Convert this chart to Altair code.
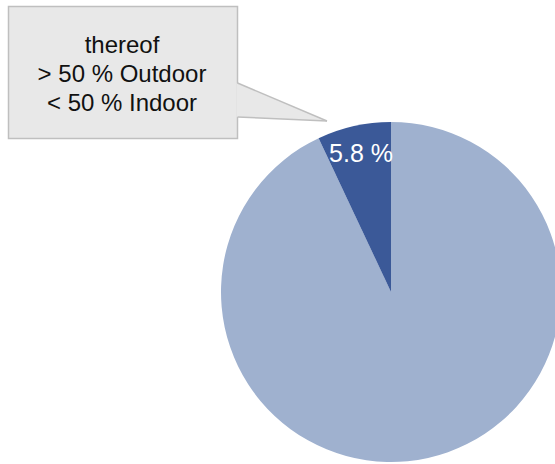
import altair as alt
import pandas as pd

W, H = 555, 464

# Data
categories = ["rest", "thereof"]
shares = [93.0, 7.0]          # angular share as drawn in the picture
slice_colors = ["#9fb1cf", "#3b5998"]
label_text = ["5.8 %"]
callout_lines = ["thereof", "> 50 % Outdoor", "< 50 % Indoor"]

pie_df = pd.DataFrame({"cat": categories, "share": shares, "order": [0, 1]})

xs = alt.Scale(domain=[0, W], range=[0, W])
ys = alt.Scale(domain=[0, H], range=[0, H])

pie = alt.Chart(pie_df).mark_arc(outerRadius=170, stroke=None).encode(
    theta=alt.Theta("share:Q", stack=True),
    order=alt.Order("order:Q"),
    color=alt.Color("cat:N", scale=alt.Scale(domain=categories, range=slice_colors), legend=None),
    x=alt.value(391),
    y=alt.value(292),
)

lbl = alt.Chart(pd.DataFrame({"t": label_text})).mark_text(
    font="Liberation Sans", fontSize=25, color="white", align="center", baseline="alphabetic"
).encode(text="t:N", x=alt.value(361), y=alt.value(162))

box_df = pd.DataFrame({"x": [8.5], "x2": [237.5], "y": [6.5], "y2": [138.5]})
box = alt.Chart(box_df).mark_rect(fill="#e8e8e8", stroke="#bfbfbf", strokeWidth=1.5).encode(
    x=alt.X("x:Q", scale=xs, axis=None), x2="x2", y=alt.Y("y:Q", scale=ys, axis=None), y2="y2"
)

ptr_df = pd.DataFrame({"x": [236.5, 327.0], "y": [83.0, 121.0], "y2": [117.0, 121.0]})
ptr_fill = alt.Chart(ptr_df).mark_area(fill="#e8e8e8", stroke=None).encode(
    x=alt.X("x:Q", scale=xs, axis=None), y=alt.Y("y:Q", scale=ys, axis=None), y2="y2"
)
edge_df = pd.DataFrame({
    "x": [237.5, 327.0, 237.5, 327.0],
    "y": [83.0, 121.0, 117.0, 121.0],
    "g": ["a", "a", "b", "b"],
})
ptr_edges = alt.Chart(edge_df).mark_line(color="#bfbfbf", strokeWidth=1.5).encode(
    x=alt.X("x:Q", scale=xs, axis=None), y=alt.Y("y:Q", scale=ys, axis=None), detail="g:N"
)

txt = alt.Chart(pd.DataFrame({"t": ["\n".join(callout_lines)]})).mark_text(
    font="Liberation Sans", fontSize=24, color="#111111", align="center", baseline="alphabetic",
    lineBreak="\n", lineHeight=29
).encode(text="t:N", x=alt.value(122), y=alt.value(53))

chart = alt.layer(box, ptr_fill, ptr_edges, pie, lbl, txt).properties(
    width=W, height=H, padding=0, autosize=alt.AutoSizeParams(type="none")
).configure_view(stroke=None).resolve_scale(color="independent")

chart.save("out.html", embed_options={"renderer": "svg", "actions": False})
